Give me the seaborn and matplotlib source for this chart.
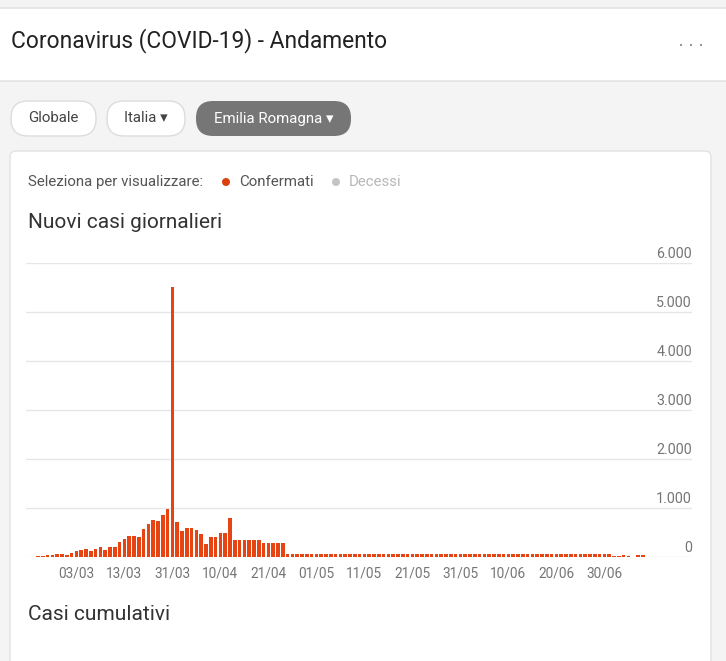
import matplotlib
matplotlib.use("Agg")
import matplotlib.pyplot as plt
from matplotlib.patches import FancyBboxPatch, Circle
from matplotlib.transforms import IdentityTransform
import seaborn as sns

# daily new confirmed cases, one bar per day
new_cases = [
    10, 8, 12, 15, 35,
    48, 65, 65, 50, 80,
    120, 150, 165, 130, 160,
    195, 140, 205, 205, 300,
    360, 435, 420, 400, 580,
    680, 745, 735, 850, 980,
    5520, 710, 530, 590, 590,
    550, 465, 265, 415, 415,
    485, 485, 790, 340, 340,
    340, 340, 350, 350, 285,
    285, 285, 285, 285,
    70, 70, 70, 70, 70, 70, 70, 70, 70, 70, 70, 70, 70, 70, 70, 70, 70,
    70, 70, 70, 70, 70, 70, 70, 70, 70, 70, 70, 70, 70, 70, 70, 70, 70,
    70, 70, 70, 70, 70, 70, 70, 70, 70, 70, 70, 70, 70, 70, 70, 70, 70,
    70, 70, 70, 70, 70, 70, 70, 70, 70, 70, 70, 70, 70, 70, 70, 70, 70,
    30, 30, 45, 30, 10, 35, 35,
]
day_index = list(range(len(new_cases)))

date_ticks = [10, 20, 30, 40, 50, 60, 70, 80, 90, 100, 110, 120]
date_labels = ["03/03", "13/03", "31/03", "10/04", "21/04", "01/05",
               "11/05", "21/05", "31/05", "10/06", "20/06", "30/06"]
y_ticks = [0, 1000, 2000, 3000, 4000, 5000, 6000]
y_labels = ["0", "1.000", "2.000", "3.000", "4.000", "5.000", "6.000"]

BAR = "#e64412"
W, H = 726, 661

sns.set_theme(style="white")
plt.rcParams["font.family"] = ["Roboto", "DejaVu Sans"]

fig = plt.figure(figsize=(W / 100, H / 100), dpi=100)
fig.patch.set_facecolor("#f4f4f4")
ident = IdentityTransform()


def py(y):
    """top-based pixel y -> display y"""
    return H - y


def box(x0, y0, x1, y1, fc, ec="none", r=0, z=-5, lw=1):
    p = FancyBboxPatch((x0, py(y1)), x1 - x0, y1 - y0,
                       boxstyle=f"round,pad=0,rounding_size={r}",
                       fc=fc, ec=ec, lw=lw, transform=ident, zorder=z)
    fig.add_artist(p)


def dot(x, y, r, color):
    fig.add_artist(Circle((x, py(y)), r, fc=color, ec="none",
                          transform=ident))


def label(x, y, s, size, color, ha="left", **kw):
    fig.text(x / W, 1 - y / H, s, fontsize=size, color=color, ha=ha,
             va="center", **kw)


# header strip
box(-2, 8, W + 2, 81, "white", ec="#dedede", z=-6)
label(11, 41, "Coronavirus (COVID-19) - Andamento", 16.4, "#222222")
for xd in (681, 691, 701):
    dot(xd, 45, 1.1, "#8a8a8a")

# region buttons
box(11, 101, 96, 136, "white", ec="#dcdcdc", r=17)
label(53.5, 118.5, "Globale", 10.8, "#444444", ha="center")
box(107, 101, 185, 136, "white", ec="#dcdcdc", r=17)
label(146, 118.5, "Italia ▾", 10.8, "#444444", ha="center")
box(196, 101, 351, 136, "#767676", r=17)
label(273.5, 118.5, "Emilia Romagna ▾", 10.8, "white", ha="center")

# card
box(10, 151, 711, 700, "white", ec="#e2e2e2", r=6)
label(28, 182, "Seleziona per visualizzare:", 10.8, "#555555")
dot(226, 182, 4, "#d9400e")
label(239, 182, "Confermati", 10.8, "#555555")
dot(336, 182, 4, "#c4c4c4")
label(349, 182, "Decessi", 10.8, "#b8b8b8")
label(28, 223, "Nuovi casi giornalieri", 15, "#333333")
label(28, 614, "Casi cumulativi", 15, "#333333")

# chart area
ax_l, ax_r, ax_t, ax_b = 26, 692, 263, 557
ax = fig.add_axes([ax_l / W, 1 - ax_b / H, (ax_r - ax_l) / W,
                   (ax_b - ax_t) / H])
ax.set_facecolor("none")

sns.barplot(x=day_index, y=new_cases, color=BAR, saturation=1,
            width=0.75, linewidth=0, ax=ax, zorder=3)

ax.set_xlim(-0.5, -0.5 + (ax_r - ax_l) / 4.8)
ax.set_ylim(0, 6000)
for v, s in zip(y_ticks, y_labels):
    ax.axhline(v, color="#e6e6e6", lw=1, zorder=1)
    ax.annotate(s, xy=(1.0, v), xycoords=ax.get_yaxis_transform(),
                xytext=(0, 1.5), textcoords="offset points",
                ha="right", va="bottom", fontsize=10.3, color="#757575")
ax.set_yticks([])
ax.set_xticks(date_ticks)
ax.set_xticklabels(date_labels)
ax.tick_params(axis="x", length=0, pad=7, labelsize=9.8,
               labelcolor="#757575")
ax.set_xlabel("")
ax.set_ylabel("")
for sp in ax.spines.values():
    sp.set_visible(False)

fig.savefig("out.png", dpi=100)
